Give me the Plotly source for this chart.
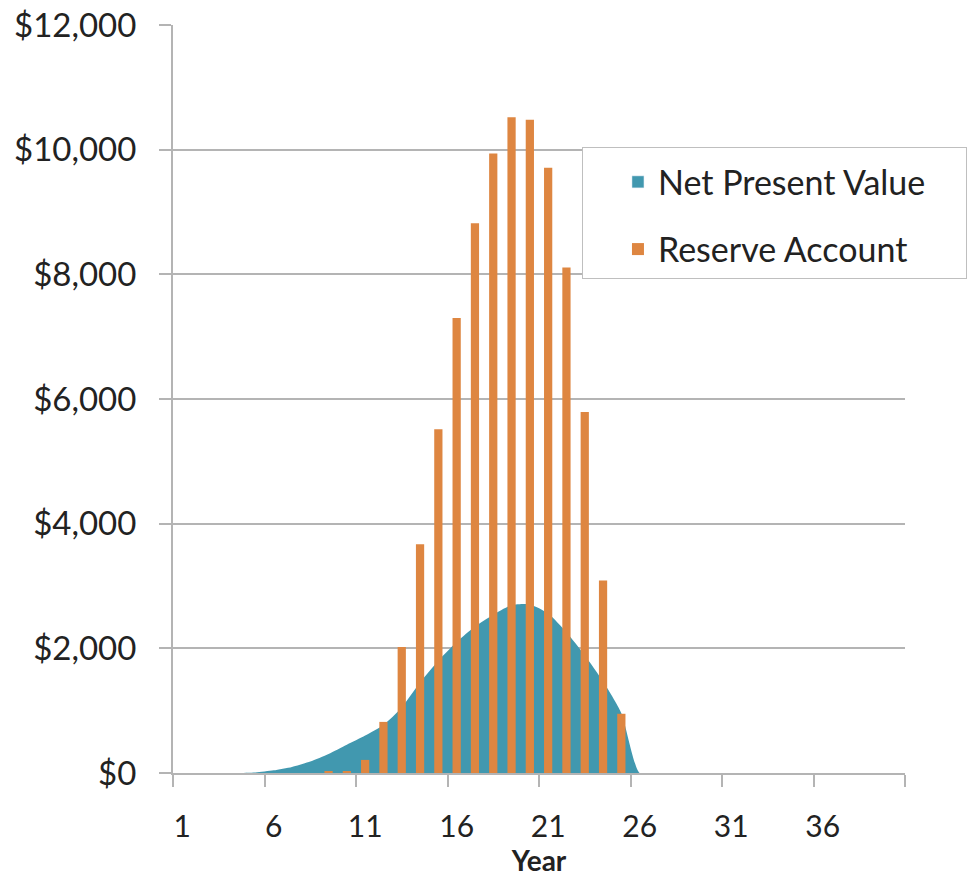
import plotly.graph_objects as go

# ---- data ----
years = list(range(1, 41))
npv = [0, 0, 0, 2, 10, 43, 98, 184, 305, 453, 600, 770, 1050, 1450, 1800, 2100,
       2350, 2540, 2690, 2705, 2560, 2260, 1890, 1470, 960, 0] + [0] * 14
reserve = [0] * 8 + [25, 30, 210, 820, 2020, 3670, 5515, 7300, 8820, 9940, 10520,
                     10480, 9710, 8110, 5790, 3090, 950] + [0] * 15
tick_years = [1, 6, 11, 16, 21, 26, 31, 36]
tick_text = [str(v) for v in tick_years]
boundaries = [0.5 + 5 * i for i in range(9)]
y_ticks = [0, 2000, 4000, 6000, 8000, 10000, 12000]
y_text = ["$" + format(v, ",") for v in y_ticks]

TEAL = "#4198AF"
ORANGE = "#DE8641"
GRID = "#B4B4B4"
FONT = "Lato"
TXT = "#222222"
PAD = "\u00a0" * 4

fig = go.Figure()
fig.add_trace(go.Scatter(x=years, y=npv, mode="none", fill="tozeroy",
                         fillcolor=TEAL, line=dict(shape="spline", smoothing=0.6),
                         name="Net Present Value", showlegend=False,
                         hoverinfo="skip"))
# legend proxy (square swatch like the reference)
fig.add_trace(go.Bar(x=[None], y=[None], marker_color=TEAL, yaxis="y2",
                     name="Net Present Value" + PAD, legendgroup="npv"))
fig.add_trace(go.Bar(x=years, y=reserve, marker_color=ORANGE, marker_line_width=0,
                     width=0.45, yaxis="y2",
                     name="Reserve Account" + PAD, legendgroup="res"))

fig.update_layout(
    width=969, height=877,
    margin=dict(l=173, r=64, t=25, b=104, autoexpand=False),
    paper_bgcolor="white", plot_bgcolor="white",
    barmode="overlay",
    font=dict(family=FONT, size=32, color=TXT),
    legend=dict(x=0.5587, y=0.8368, xanchor="left", yanchor="top",
                bgcolor="white", bordercolor="#BFBFBF", borderwidth=1,
                font=dict(family=FONT, size=34, color=TXT),
                title=dict(text="\u00a0", font=dict(size=4)),
                traceorder="grouped", tracegroupgap=20, indentation=35),
    xaxis=dict(range=[0.5, 40.5], tickmode="array", tickvals=tick_years,
               ticktext=tick_text, ticks="", showline=True, linecolor=GRID,
               linewidth=2, showgrid=False, zeroline=False, automargin=False,
               ticklabelstandoff=26, tickfont=dict(size=30),
               minor=dict(tickmode="array", tickvals=boundaries, ticks="outside",
                          ticklen=12, tickwidth=2, tickcolor=GRID, showgrid=False),
               title=dict(text="<b>Year</b>", standoff=5,
                          font=dict(family=FONT, size=28, color=TXT))),
    yaxis=dict(range=[0, 12000], tickmode="array", tickvals=y_ticks,
               ticktext=y_text, ticks="outside", ticklen=12, tickfont=dict(size=33),
               tickwidth=2, tickcolor=GRID, showline=True, linecolor=GRID,
               linewidth=2, showgrid=True, gridcolor=GRID, gridwidth=2,
               zeroline=False, automargin=False, ticklabelstandoff=16),
    yaxis2=dict(overlaying="y", matches="y", visible=False, range=[0, 12000]),
)

fig.write_html("out.html", config={"displayModeBar": False},
               post_script="document.body.style.margin='0';"
                           "document.body.style.overflow='hidden';")
